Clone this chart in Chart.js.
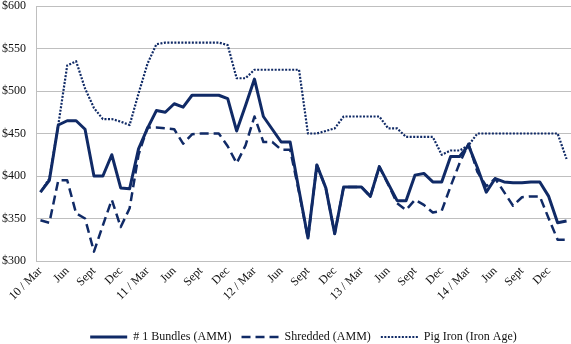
<!DOCTYPE html>
<html>
<head>
<meta charset="utf-8">
<script src="https://cdn.jsdelivr.net/npm/chart.js@4.4.1/dist/chart.umd.min.js"></script>
<style>
  body { margin: 0; background: #fff; }
  #wrap { width: 571px; height: 344px; position: relative; }
</style>
</head>
<body>
<div id="wrap"><canvas id="scrapChart"></canvas></div>
<script>
// months, Mar 2010 .. Feb 2015
const months = [
  '2010-03','2010-04','2010-05','2010-06','2010-07','2010-08','2010-09','2010-10','2010-11','2010-12',
  '2011-01','2011-02','2011-03','2011-04','2011-05','2011-06','2011-07','2011-08','2011-09','2011-10',
  '2011-11','2011-12','2012-01','2012-02','2012-03','2012-04','2012-05','2012-06','2012-07','2012-08',
  '2012-09','2012-10','2012-11','2012-12','2013-01','2013-02','2013-03','2013-04','2013-05','2013-06',
  '2013-07','2013-08','2013-09','2013-10','2013-11','2013-12','2014-01','2014-02','2014-03','2014-04',
  '2014-05','2014-06','2014-07','2014-08','2014-09','2014-10','2014-11','2014-12','2015-01','2015-02'
];

// one label every 3 months
const tickLabels = [
  '10 / Mar','Jun','Sept','Dec','11 / Mar','Jun','Sept','Dec','12 / Mar','Jun',
  'Sept','Dec','13 / Mar','Jun','Sept','Dec','14 / Mar','Jun','Sept','Dec'
];

const bundles = [
  381, 395, 460, 465, 465, 455, 400, 400, 425, 386,
  385, 432, 456, 477, 475, 485, 481, 495, 495, 495,
  495, 491, 453, 483, 514, 470, 455, 440, 440, 383,
  327, 413, 386, 332, 387, 387, 387, 376, 411, 391,
  371, 371, 401, 403, 393, 393, 423, 423, 436, 410,
  381, 397, 393, 392, 392, 393, 393, 376, 345, 347
];

const shredded = [
  348, 345, 395, 395, 356, 350, 311, 342, 372, 340,
  362, 425, 457, 457, 456, 455, 438, 449, 450, 450,
  450, 435, 415, 436, 470, 440, 440, 431, 431, 381,
  327, 413, 386, 332, 387, 387, 387, 376, 411, 390,
  368, 360, 372, 366, 357, 359, 388, 415, 438, 405,
  388, 397, 381, 365, 375, 376, 376, 350, 325, 325
];

const pigIron = [
  381, 397, 460, 530, 535, 503, 480, 467, 467, 464,
  460, 497, 532, 555, 557, 557, 557, 557, 557, 557,
  557, 554, 515, 515, 525, 525, 525, 525, 525, 525,
  450, 450, 453, 456, 470, 470, 470, 470, 470, 456,
  456, 446, 446, 446, 446, 425, 430, 430, 436, 450,
  450, 450, 450, 450, 450, 450, 450, 450, 450, 420
];

const NAVY = '#102a66';
const FONT = { family: "'Liberation Serif', 'Times New Roman', serif", size: 12 };

// legend sits centred under the plot area, not the whole canvas
const legendUnderPlot = {
  id: 'legendUnderPlot',
  afterLayout(chart) {
    chart.legend.left = chart.chartArea.left;
  }
};

new Chart(document.getElementById('scrapChart'), {
  type: 'line',
  data: {
    labels: months,
    datasets: [
      { label: '# 1 Bundles (AMM)', data: bundles, borderColor: NAVY, borderWidth: 3 },
      { label: 'Shredded (AMM)', data: shredded, borderColor: NAVY, borderWidth: 2.5, borderDash: [9, 5] },
      { label: 'Pig Iron (Iron Age)', data: pigIron, borderColor: NAVY, borderWidth: 2.2, borderDash: [2, 1.5] }
    ]
  },
  plugins: [legendUnderPlot],
  options: {
    responsive: true,
    maintainAspectRatio: false,
    animation: false,
    layout: { padding: { top: 6, right: 0, left: 0, bottom: -9 } },
    elements: {
      point: { radius: 0 },
      line: { tension: 0, borderJoinStyle: 'round' }
    },
    scales: {
      x: {
        offset: true,
        grid: { display: false, drawTicks: false },
        border: { color: '#bfbfbf' },
        ticks: {
          autoSkip: false,
          minRotation: 45,
          maxRotation: 45,
          padding: 3,
          color: '#111',
          font: FONT,
          callback: (v, i) => (i % 3 === 0 ? tickLabels[i / 3] : '')
        },
        afterFit: s => {
          s.height = 92 - s.chart.legend.height;
          s.paddingLeft = 0;
          s.paddingRight = 0;
        }
      },
      y: {
        min: 300,
        max: 600,
        grid: { color: '#bfbfbf', drawTicks: false },
        border: { color: '#bfbfbf' },
        ticks: {
          stepSize: 50,
          padding: 10,
          color: '#111',
          font: FONT,
          callback: v => '$' + v
        },
        afterFit: s => {
          s.width = 36;
          s.paddingTop = 0;
          s.paddingBottom = 0;
        }
      }
    },
    plugins: {
      tooltip: { enabled: false },
      legend: {
        position: 'bottom',
        labels: {
          color: '#111',
          font: FONT,
          usePointStyle: true,
          pointStyle: 'line',
          pointStyleWidth: 37,
          padding: 10,
          // point-style items lose the dash, so copy it from the dataset
          generateLabels: chart => {
            const items = Chart.defaults.plugins.legend.labels.generateLabels(chart);
            items.forEach(it => {
              const ds = chart.data.datasets[it.datasetIndex];
              it.lineDash = ds.borderDash || [];
              it.lineWidth = ds.borderWidth;
              it.strokeStyle = NAVY;
            });
            return items;
          }
        }
      }
    }
  }
});
</script>
</body>
</html>
